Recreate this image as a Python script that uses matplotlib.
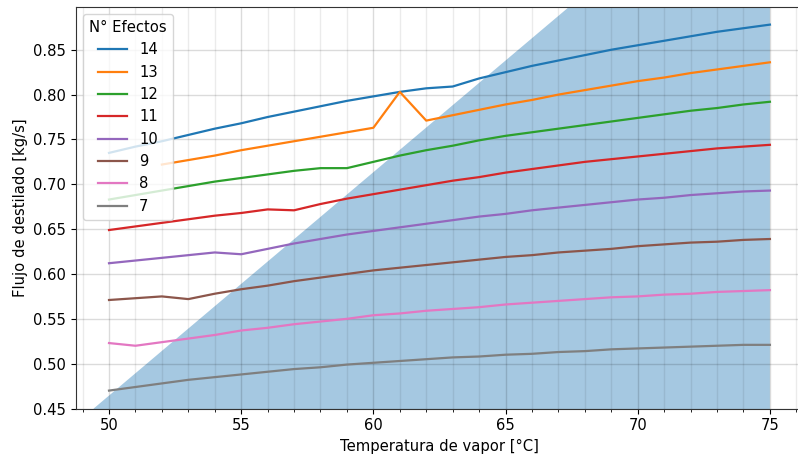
import numpy as np
import matplotlib
matplotlib.use("Agg")
import matplotlib.pyplot as plt
from matplotlib.ticker import MultipleLocator

plt.rcParams["font.size"] = 10.6

# temperatura de vapor [°C]
T = np.arange(50, 76)

# flujo de destilado [kg/s] por numero de efectos
flujo_14 = [0.735, 0.742, 0.748, 0.755, 0.762, 0.768, 0.775, 0.781, 0.787, 0.793,
            0.798, 0.803, 0.807, 0.809, 0.818, 0.825, 0.832, 0.838, 0.844, 0.850,
            0.855, 0.860, 0.865, 0.870, 0.874, 0.878]
flujo_13 = [None, None, 0.722, 0.727, 0.732, 0.738, 0.743, 0.748, 0.753, 0.758,
            0.763, 0.803, 0.771, 0.777, 0.783, 0.789, 0.794, 0.800, 0.805, 0.810,
            0.815, 0.819, 0.824, 0.828, 0.832, 0.836]
flujo_12 = [0.683, 0.688, 0.693, 0.698, 0.703, 0.707, 0.711, 0.715, 0.718, 0.718,
            0.725, 0.732, 0.738, 0.743, 0.749, 0.754, 0.758, 0.762, 0.766, 0.770,
            0.774, 0.778, 0.782, 0.785, 0.789, 0.792]
flujo_11 = [0.649, 0.653, 0.657, 0.661, 0.665, 0.668, 0.672, 0.671, 0.678, 0.684,
            0.689, 0.694, 0.699, 0.704, 0.708, 0.713, 0.717, 0.721, 0.725, 0.728,
            0.731, 0.734, 0.737, 0.740, 0.742, 0.744]
flujo_10 = [0.612, 0.615, 0.618, 0.621, 0.624, 0.622, 0.628, 0.634, 0.639, 0.644,
            0.648, 0.652, 0.656, 0.660, 0.664, 0.667, 0.671, 0.674, 0.677, 0.680,
            0.683, 0.685, 0.688, 0.690, 0.692, 0.693]
flujo_9 = [0.571, 0.573, 0.575, 0.572, 0.578, 0.583, 0.587, 0.592, 0.596, 0.600,
           0.604, 0.607, 0.610, 0.613, 0.616, 0.619, 0.621, 0.624, 0.626, 0.628,
           0.631, 0.633, 0.635, 0.636, 0.638, 0.639]
flujo_8 = [0.523, 0.520, 0.524, 0.528, 0.532, 0.537, 0.540, 0.544, 0.547, 0.550,
           0.554, 0.556, 0.559, 0.561, 0.563, 0.566, 0.568, 0.570, 0.572, 0.574,
           0.575, 0.577, 0.578, 0.580, 0.581, 0.582]
flujo_7 = [0.470, 0.474, 0.478, 0.482, 0.485, 0.488, 0.491, 0.494, 0.496, 0.499,
           0.501, 0.503, 0.505, 0.507, 0.508, 0.510, 0.511, 0.513, 0.514, 0.516,
           0.517, 0.518, 0.519, 0.520, 0.521, 0.521]

efectos = ["14", "13", "12", "11", "10", "9", "8", "7"]
flujos = [flujo_14, flujo_13, flujo_12, flujo_11, flujo_10, flujo_9, flujo_8, flujo_7]

# zona sombreada (limite diagonal)
zona_T = [49.42, 75]
zona_y = [0.45, 1.087]

fig = plt.figure(figsize=(7.98, 4.58), dpi=100)
ax = fig.add_axes([0.0952, 0.108, 0.911, 0.8774])

ax.fill_between(zona_T, zona_y, 0.40, color="C0", alpha=0.4, linewidth=0)

for i in range(len(efectos)):
    y = np.array(flujos[i], dtype=float)
    ax.plot(T, y, color="C%d" % i, label=efectos[i], linewidth=1.6)

ax.set_xlim(48.75, 76.25)
ax.set_ylim(0.45, 0.898)
ax.xaxis.set_major_locator(MultipleLocator(5))
ax.xaxis.set_minor_locator(MultipleLocator(1))
ax.yaxis.set_major_locator(MultipleLocator(0.05))
ax.grid(which="major", color="k", alpha=0.14, linewidth=1.0)
ax.grid(which="minor", axis="x", color="k", alpha=0.08, linewidth=1.0)
for s in ax.spines.values():
    s.set_color("#333333")

ax.set_xlabel("Temperatura de vapor [°C]")
ax.set_ylabel("Flujo de destilado [kg/s]")
ax.legend(title="N° Efectos", loc="upper left")

fig.savefig("out.png", dpi=100)
